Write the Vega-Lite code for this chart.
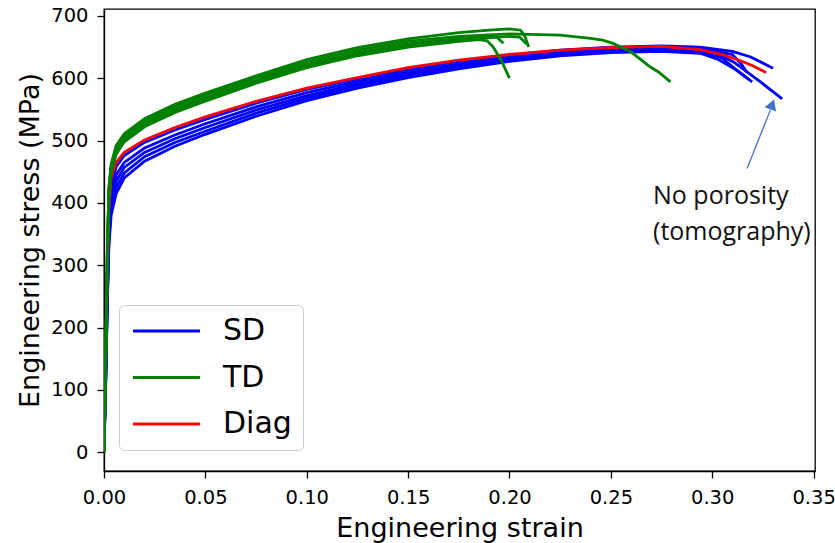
{
  "$schema": "https://vega.github.io/schema/vega-lite/v6.json",
  "width": 711,
  "height": 462,
  "autosize": {"type": "none"},
  "padding": {"left": 104, "top": 9, "right": 20, "bottom": 72},
  "background": "white",
  "config": {
    "view": {"stroke": "#000", "strokeWidth": 1.3},
    "font": "DejaVu Sans",
    "axis": {
      "grid": false, "domainColor": "#000", "domainWidth": 1.3,
      "tickColor": "#000", "tickWidth": 1.3, "tickSize": 7,
      "labelFont": "DejaVu Sans", "labelFontSize": 19.5, "labelColor": "#000",
      "labelFlush": false, "labelOverlap": false,
      "titleFont": "DejaVu Sans", "titleFontSize": 27, "titleFontWeight": "normal", "titleColor": "#000"
    },
    "legend": {
      "orient": "none", "legendX": 15, "legendY": 296,
      "symbolType": "M-1,0L4.583,0", "symbolSize": 576, "symbolStrokeWidth": 3,
      "labelFont": "DejaVu Sans", "labelFontSize": 30, "labelColor": "#000",
      "labelOffset": 63, "padding": 11, "rowPadding": 16.5,
      "strokeColor": "#cccccc", "fillColor": "rgba(255,255,255,0.85)", "cornerRadius": 5
    }
  },
  "datasets": {
    "curves": [
      {"dir": "SD", "id": "SD_a",
       "s": [0,0.0008,0.0016,0.0024,0.0035,0.006,0.01,0.02,0.035,0.05,0.075,0.1,0.125,0.15,0.175,0.2,0.225,0.25,0.275,0.294,0.31,0.319,0.33],
       "t": [5,120,260,370,425,458,476,497,517,534,560,582,599,614,627,637,645,650,652,650,643,634,616]},
      {"dir": "SD", "id": "SD_b",
       "s": [0,0.0008,0.0016,0.0024,0.0035,0.006,0.01,0.02,0.035,0.05,0.075,0.1,0.125,0.15,0.175,0.2,0.225,0.25,0.275,0.294,0.302,0.3105,0.3238,0.3345],
       "t": [5,115,250,355,410,445,465,488,509,527,554,577,595,610,623,634,642,647,650,648,640,626,594,567]},
      {"dir": "SD", "id": "SD_c",
       "s": [0,0.0008,0.0016,0.0024,0.0035,0.006,0.01,0.02,0.035,0.05,0.075,0.1,0.125,0.15,0.175,0.2,0.225,0.25,0.275,0.294,0.303,0.3105,0.3197],
       "t": [5,105,230,330,380,415,440,467,491,510,539,564,584,601,615,627,636,641,643,640,630,616,594]},
      {"dir": "SD", "id": "SD_d",
       "s": [0,0.0008,0.0016,0.0024,0.0035,0.006,0.01,0.02,0.035,0.05,0.075,0.1,0.125,0.15,0.175,0.2,0.225,0.25,0.275,0.3,0.31,0.3145,0.317],
       "t": [5,112,245,350,400,435,457,481,503,521,549,572,591,607,620,631,640,646,649,645,638,622,610]},
      {"dir": "SD", "id": "SD_e",
       "s": [0,0.0008,0.0016,0.0024,0.0035,0.006,0.01,0.02,0.035,0.05,0.075,0.1,0.125,0.15,0.175,0.2,0.225,0.25,0.275,0.294,0.305,0.3125,0.318],
       "t": [5,108,238,340,390,425,448,474,497,515,544,568,588,604,618,629,638,644,646,643,632,612,598]},
      {"dir": "Diag", "id": "Diag_a",
       "s": [0,0.0008,0.0016,0.0024,0.0035,0.006,0.01,0.02,0.035,0.05,0.075,0.1,0.125,0.15,0.175,0.2,0.225,0.25,0.275,0.294,0.305,0.314,0.32,0.3266],
       "t": [0,130,280,390,440,465,481,501,521,538,563,584,601,617,629,638,645,649,651,646,638,628,620,609]},
      {"dir": "TD", "id": "TD_a",
       "s": [0,0.0008,0.0016,0.0024,0.0035,0.006,0.01,0.02,0.035,0.05,0.075,0.1,0.125,0.15,0.175,0.19,0.2,0.2055,0.2075,0.2095],
       "t": [0,150,315,425,462,492,511,535,558,576,604,630,649,663,673,677,679,677,668,650]},
      {"dir": "TD", "id": "TD_b",
       "s": [0,0.0008,0.0016,0.0024,0.0035,0.006,0.01,0.02,0.035,0.05,0.075,0.1,0.125,0.15,0.175,0.19,0.194,0.197],
       "t": [0,145,305,415,455,485,504,528,551,569,597,622,641,655,664,668,665,656]},
      {"dir": "TD", "id": "TD_c",
       "s": [0,0.0008,0.0016,0.0024,0.0035,0.006,0.01,0.02,0.035,0.05,0.075,0.1,0.125,0.15,0.175,0.185,0.189,0.192,0.196,0.2],
       "t": [0,140,300,408,448,478,498,522,545,563,592,617,636,650,659,662,660,650,628,600]},
      {"dir": "TD", "id": "TD_d",
       "s": [0,0.0008,0.0016,0.0024,0.0035,0.006,0.01,0.02,0.035,0.05,0.075,0.1,0.125,0.15,0.175,0.2,0.225,0.24,0.246,0.251,0.26,0.2695,0.2735,0.2794],
       "t": [0,148,310,420,458,489,508,532,555,573,601,626,645,659,667,671,669,664,661,656,642,618,610,594]},
      {"dir": "TD", "id": "TD_e",
       "s": [0,0.0008,0.0016,0.0024,0.0035,0.006,0.01,0.02,0.035,0.05,0.075,0.1,0.125,0.15,0.175,0.2,0.205,0.2085],
       "t": [0,143,308,418,452,482,501,525,548,566,594,620,639,653,662,667,666,655]}
    ],
    "arrow": [{"s": 0.3172, "t": 455, "s2": 0.3287, "t2": 549}],
    "head": [{"s": 0.3296, "t": 558}],
    "notes": [
      {"s": 0.2708, "t": 398, "txt": "No porosity"},
      {"s": 0.2708, "t": 340, "txt": "(tomography)"}
    ]
  },
  "encoding": {
    "x": {"field": "s", "type": "quantitative",
      "scale": {"domain": [0, 0.3507], "nice": false, "zero": false},
      "axis": {"values": [0, 0.05, 0.1, 0.15, 0.2, 0.25, 0.3, 0.35], "format": ".2f",
               "title": "Engineering strain", "labelPadding": 10, "titlePadding": 9}},
    "y": {"field": "t", "type": "quantitative",
      "scale": {"domain": [-30, 711], "nice": false, "zero": false},
      "axis": {"values": [0, 100, 200, 300, 400, 500, 600, 700],
               "title": "Engineering stress (MPa)", "labelPadding": 9, "titlePadding": 6}}
  },
  "layer": [
    {
      "data": {"name": "curves"},
      "transform": [{"filter": "datum.dir == 'SD'"}, {"flatten": ["s", "t"]}],
      "mark": {"type": "line", "strokeWidth": 2.8, "clip": true},
      "encoding": {
        "color": {"field": "dir", "type": "nominal",
          "scale": {"domain": ["SD", "TD", "Diag"], "range": ["#0000ff", "#008000", "#ff0000"]},
          "legend": {"title": null}},
        "detail": {"field": "id"}
      }
    },
    {
      "data": {"name": "curves"},
      "transform": [{"filter": "datum.dir == 'Diag'"}, {"flatten": ["s", "t"]}],
      "mark": {"type": "line", "strokeWidth": 2.8, "clip": true},
      "encoding": {
        "color": {"field": "dir", "type": "nominal",
          "scale": {"domain": ["SD", "TD", "Diag"], "range": ["#0000ff", "#008000", "#ff0000"]},
          "legend": {"title": null}},
        "detail": {"field": "id"}
      }
    },
    {
      "data": {"name": "curves"},
      "transform": [{"filter": "datum.dir == 'TD'"}, {"flatten": ["s", "t"]}],
      "mark": {"type": "line", "strokeWidth": 2.8, "clip": true},
      "encoding": {
        "color": {"field": "dir", "type": "nominal",
          "scale": {"domain": ["SD", "TD", "Diag"], "range": ["#0000ff", "#008000", "#ff0000"]},
          "legend": {"title": null}},
        "detail": {"field": "id"}
      }
    },
    {
      "data": {"name": "arrow"},
      "mark": {"type": "rule", "color": "#4472C4", "strokeWidth": 1.3},
      "encoding": {"x2": {"field": "s2"}, "y2": {"field": "t2"}}
    },
    {
      "data": {"name": "head"},
      "mark": {"type": "point", "shape": "triangle-up", "filled": true, "angle": 21, "size": 150, "color": "#4472C4", "opacity": 1},
      "encoding": {}
    },
    {
      "data": {"name": "notes"},
      "mark": {"type": "text", "align": "left", "baseline": "alphabetic", "font": "Open Sans", "fontSize": 25, "color": "#111"},
      "encoding": {"text": {"field": "txt"}}
    }
  ]
}
